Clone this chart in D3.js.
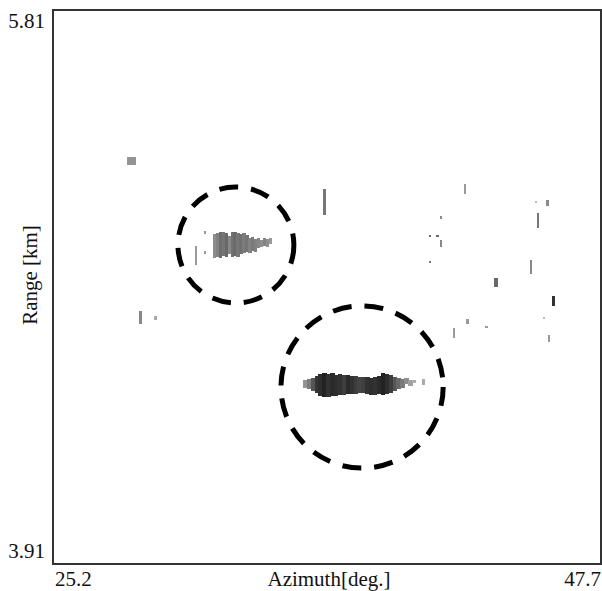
<!DOCTYPE html>
<html>
<head>
<meta charset="utf-8">
<script src="https://cdn.jsdelivr.net/npm/d3@7"></script>
<style>
  html, body { margin: 0; padding: 0; background: #fff; }
  svg { display: block; }
  .lbl { font-family: "Liberation Serif", "Times New Roman", serif; font-size: 21px; fill: #111; }
</style>
</head>
<body>
<div id="chart"></div>
<script>
// axis extents
var azimuthExtent = [25.2, 47.7];
var rangeExtent = [3.91, 5.81];
var xTitle = "Azimuth[deg.]";
var yTitle = "Range [km]";

// echo 1 (upper target), columns of returns
var blob1Start = 31.77;
var blob1Step = 0.12;
var blob1Top = [5.042, 5.045, 5.049, 5.049, 5.045, 5.035, 5.049, 5.049, 5.045, 5.042,
                5.045, 5.038, 5.028, 5.031, 5.024, 5.028, 5.021, 5.028, 5.024, 5.028];
var blob1Bottom = [4.959, 4.963, 4.959, 4.966, 4.963, 4.973, 4.963, 4.966, 4.963, 4.973,
                   4.977, 4.980, 4.977, 4.983, 4.980, 4.994, 4.997, 5.000, 4.997, 5.007];
var blob1Level = [0.48, 0.53, 0.61, 0.58, 0.63, 0.50, 0.59, 0.62, 0.57, 0.60,
                  0.55, 0.58, 0.52, 0.56, 0.53, 0.51, 0.47, 0.52, 0.47, 0.43];

// echo 2 (lower target)
var blob2Start = 35.46;
var blob2Step = 0.16;
var blob2Top = [4.541, 4.544, 4.548, 4.555, 4.562, 4.565, 4.562, 4.565, 4.558, 4.562,
                4.558, 4.558, 4.555, 4.555, 4.551, 4.551, 4.551, 4.548, 4.551, 4.555,
                4.565, 4.562, 4.558, 4.551, 4.548, 4.544, 4.548, 4.541, 4.541];
var blob2Bottom = [4.514, 4.510, 4.503, 4.496, 4.486, 4.483, 4.483, 4.486, 4.486, 4.490,
                   4.490, 4.493, 4.493, 4.493, 4.496, 4.496, 4.493, 4.490, 4.490, 4.493,
                   4.490, 4.493, 4.496, 4.503, 4.510, 4.514, 4.527, 4.520, 4.531];
var blob2Level = [0.45, 0.55, 0.72, 0.85, 0.88, 0.92, 0.86, 0.90, 0.88, 0.86,
                  0.82, 0.90, 0.86, 0.82, 0.78, 0.80, 0.86, 0.88, 0.86, 0.90,
                  0.92, 0.88, 0.82, 0.72, 0.64, 0.56, 0.48, 0.40, 0.35];

// scattered clutter returns
var echoAz0 = [28.24, 28.73, 29.35, 31.03, 31.40, 31.40, 36.28, 41.09, 40.64, 40.92, 41.09, 40.64,
               42.07, 44.99, 45.44, 45.07, 44.78, 43.30, 45.68, 45.32, 42.15, 42.93, 41.62, 45.52, 40.35];
var echoAz1 = [28.57, 28.85, 29.43, 31.11, 31.48, 31.48, 36.37, 41.17, 40.72, 41.01, 41.17, 40.72,
               42.15, 45.07, 45.56, 45.15, 44.86, 43.43, 45.81, 45.40, 42.24, 43.02, 41.70, 45.60, 40.47];
var echoRangeLo = [5.278, 4.733, 4.747, 4.935, 5.042, 4.973, 5.107, 5.093, 5.031, 5.031, 4.997, 4.942,
                   5.179, 5.148, 5.138, 5.062, 4.905, 4.860, 4.795, 4.750, 4.733, 4.719, 4.685, 4.671, 4.524];
var echoRangeHi = [5.306, 4.778, 4.760, 5.001, 5.052, 4.983, 5.196, 5.103, 5.038, 5.038, 5.021, 4.949,
                   5.213, 5.155, 5.158, 5.114, 4.953, 4.891, 4.829, 4.757, 4.750, 4.726, 4.719, 4.695, 4.544];
var echoLevel = [0.45, 0.50, 0.36, 0.43, 0.43, 0.43, 0.57, 0.50, 0.64, 0.64, 0.50, 0.57,
                 0.43, 0.29, 0.50, 0.57, 0.50, 0.64, 0.86, 0.29, 0.43, 0.43, 0.43, 0.43, 0.36];

// marked targets: centre azimuth, centre range, radius (deg)
var targetAz = [32.71, 37.89];
var targetRange = [5.004, 4.517];
var targetRadius = [2.38, 3.33];

var width = 602, height = 591;
var margin = {left: 53, right: 1, top: 10, bottom: 27};

var x = d3.scaleLinear().domain(azimuthExtent).range([margin.left, width - margin.right]);
var y = d3.scaleLinear().domain(rangeExtent).range([height - margin.bottom, margin.top]);
var shade = d3.scaleLinear().domain([0, 1]).range(["#ffffff", "#111111"]);

var svg = d3.select("#chart").append("svg")
    .attr("width", width)
    .attr("height", height);

var defs = svg.append("defs");
defs.append("filter").attr("id", "soft")
    .append("feGaussianBlur").attr("stdDeviation", 0.6);

// build cells
var cells = [];
blob1Top.forEach(function(t, i) {
    var a0 = blob1Start + i * blob1Step;
    cells.push({az0: a0, az1: a0 + blob1Step, lo: blob1Bottom[i], hi: t, v: blob1Level[i]});
});
blob2Top.forEach(function(t, i) {
    var a0 = blob2Start + i * blob2Step;
    cells.push({az0: a0, az1: a0 + blob2Step, lo: blob2Bottom[i], hi: t, v: blob2Level[i]});
});
echoAz0.forEach(function(a, i) {
    cells.push({az0: a, az1: echoAz1[i], lo: echoRangeLo[i], hi: echoRangeHi[i], v: echoLevel[i]});
});

svg.append("g")
    .attr("filter", "url(#soft)")
    .selectAll("rect")
    .data(cells)
    .enter().append("rect")
    .attr("shape-rendering", "crispEdges")
    .attr("x", function(d) { return x(d.az0); })
    .attr("width", function(d) { return x(d.az1) - x(d.az0) + 0.5; })
    .attr("y", function(d) { return y(d.hi); })
    .attr("height", function(d) { return y(d.lo) - y(d.hi); })
    .attr("fill", function(d) { return shade(d.v); });

// dashed circles round the targets
svg.append("g")
    .attr("filter", "url(#soft)")
    .selectAll("circle")
    .data(targetAz)
    .enter().append("circle")
    .attr("cx", function(d) { return x(d); })
    .attr("cy", function(d, i) { return y(targetRange[i]); })
    .attr("r", function(d, i) { return x(azimuthExtent[0] + targetRadius[i]) - x(azimuthExtent[0]); })
    .attr("fill", "none")
    .attr("stroke", "#000")
    .attr("stroke-width", 5)
    .attr("stroke-dasharray", "19,13");

// frame
svg.append("rect")
    .attr("x", x(azimuthExtent[0]))
    .attr("y", y(rangeExtent[1]))
    .attr("width", x(azimuthExtent[1]) - x(azimuthExtent[0]))
    .attr("height", y(rangeExtent[0]) - y(rangeExtent[1]))
    .attr("fill", "none")
    .attr("stroke", "#333")
    .attr("stroke-width", 2);

// end labels
svg.append("text").attr("class", "lbl")
    .attr("x", x(azimuthExtent[0]) - 8).attr("y", y(rangeExtent[1]) + 18)
    .attr("text-anchor", "end").text(rangeExtent[1].toFixed(2));
svg.append("text").attr("class", "lbl")
    .attr("x", x(azimuthExtent[0]) - 8).attr("y", y(rangeExtent[0]) - 6)
    .attr("text-anchor", "end").text(rangeExtent[0].toFixed(2));
svg.append("text").attr("class", "lbl")
    .attr("x", x(azimuthExtent[0]) + 2).attr("y", height - 5)
    .text(azimuthExtent[0].toFixed(1));
svg.append("text").attr("class", "lbl")
    .attr("x", x(azimuthExtent[1])).attr("y", height - 5)
    .attr("text-anchor", "end").text(azimuthExtent[1].toFixed(1));

// titles
svg.append("text").attr("class", "lbl")
    .attr("x", (x(azimuthExtent[0]) + x(azimuthExtent[1])) / 2 + 2)
    .attr("y", height - 5)
    .attr("text-anchor", "middle")
    .text(xTitle);
svg.append("text").attr("class", "lbl")
    .attr("transform", "translate(37," + 275 + ") rotate(-90)")
    .attr("text-anchor", "middle")
    .text(yTitle);
</script>
</body>
</html>
